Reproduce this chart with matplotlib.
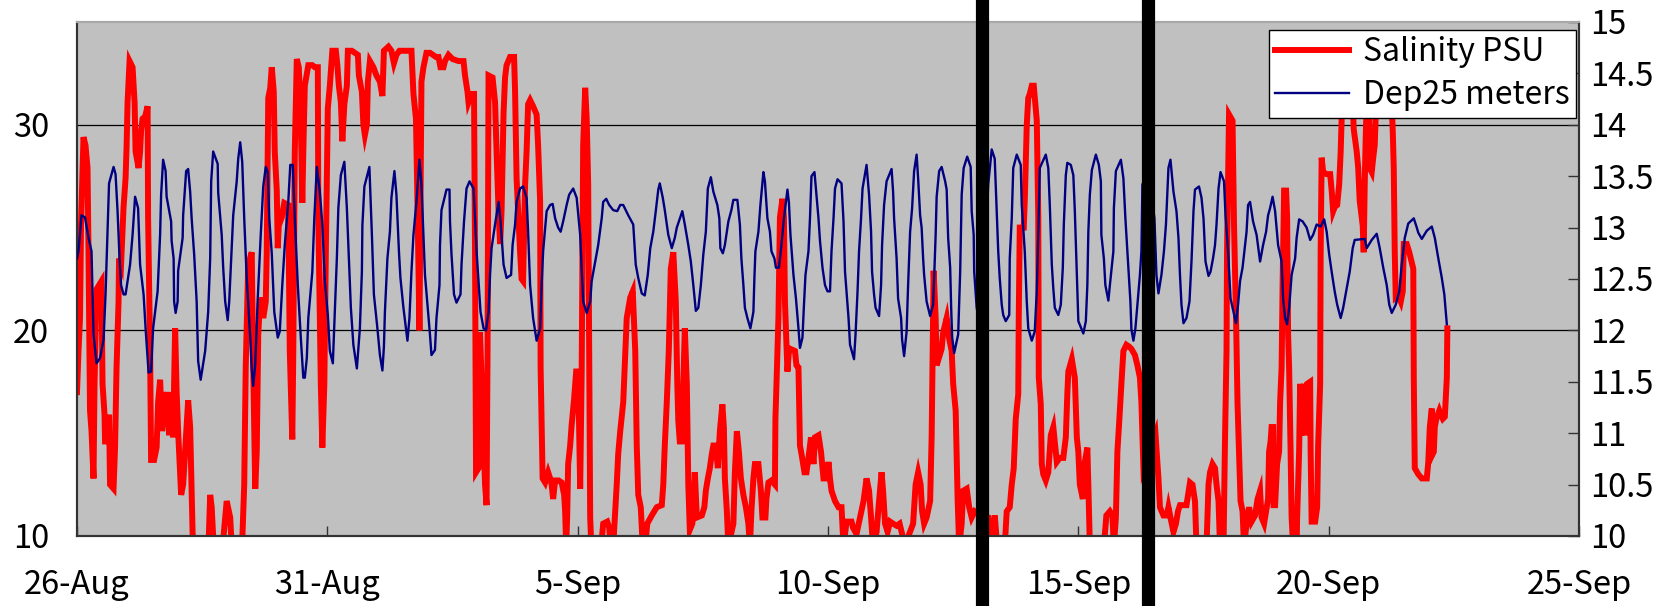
import matplotlib
matplotlib.use("Agg")
import matplotlib.pyplot as plt
from matplotlib.lines import Line2D

plt.rcParams['font.family'] = ['Noto Sans CJK JP', 'DejaVu Sans']

# ---------------- data ----------------
# time axis: days since 26-Aug 00:00
x_ticks = [0, 5, 10, 15, 20, 25, 30]
x_ticklabels = ["26-Aug", "31-Aug", "5-Sep", "10-Sep", "15-Sep", "20-Sep", "25-Sep"]
sal_ticks = [10, 20, 30]
dep_ticks = [10, 10.5, 11, 11.5, 12, 12.5, 13, 13.5, 14, 14.5, 15]
dep_ticklabels = ["10", "10.5", "11", "11.5", "12", "12.5", "13", "13.5", "14", "14.5", "15"]
event_days = [18.08, 21.40]

dep_day = [
    0.00, 0.03, 0.09, 0.16, 0.23, 0.29, 0.33, 0.39, 0.46, 0.53, 0.57, 0.61, 0.64, 0.73, 0.77, 0.81, 0.85, 0.88, 0.93, 0.97,
    1.06, 1.11, 1.16, 1.22, 1.26, 1.33, 1.37, 1.43, 1.48, 1.52, 1.61, 1.66, 1.68, 1.72, 1.77, 1.79, 1.88, 1.89, 1.93, 1.94, 1.97,
    2.01, 2.02, 2.11, 2.12, 2.18, 2.22, 2.26, 2.29, 2.34, 2.39, 2.42, 2.47, 2.56, 2.62, 2.66, 2.68, 2.72, 2.81, 2.82, 2.89, 2.92, 2.96,
    3.01, 3.04, 3.08, 3.12, 3.19, 3.22, 3.26, 3.30, 3.34, 3.39, 3.46, 3.49, 3.52, 3.56, 3.61, 3.67, 3.72, 3.77, 3.81, 3.84, 3.89, 3.94,
    4.01, 4.05, 4.10, 4.15, 4.22, 4.26, 4.31, 4.35, 4.41, 4.47, 4.52, 4.55, 4.59, 4.62, 4.70, 4.74, 4.79, 4.85, 4.90, 4.95,
    5.01, 5.05, 5.11, 5.15, 5.19, 5.22, 5.27, 5.34, 5.39, 5.43, 5.47, 5.52, 5.59, 5.65, 5.69, 5.70, 5.74, 5.84,
    5.89, 5.93, 6.00, 6.05, 6.10, 6.13, 6.15, 6.20, 6.25, 6.28, 6.34, 6.38, 6.43, 6.46, 6.52, 6.60, 6.64, 6.68, 6.72, 6.78, 6.84, 6.88, 6.92, 6.95,
    7.00, 7.05, 7.08, 7.15, 7.18, 7.24, 7.25, 7.28, 7.38, 7.44, 7.45, 7.48, 7.53, 7.58, 7.66, 7.68, 7.73, 7.78, 7.84, 7.92, 7.95, 7.98,
    8.02, 8.06, 8.12, 8.17, 8.22, 8.25, 8.28, 8.35, 8.42, 8.46, 8.52, 8.58, 8.67, 8.70, 8.75, 8.78, 8.85, 8.91, 8.98,
    9.01, 9.05, 9.11, 9.18, 9.25, 9.28, 9.31, 9.38, 9.45, 9.50, 9.55, 9.61, 9.66, 9.71, 9.78, 9.83, 9.91, 9.98,
    10.05, 10.08, 10.11, 10.18, 10.25, 10.28, 10.35, 10.41, 10.48, 10.51, 10.57, 10.63, 10.71, 10.79, 10.85, 10.91,
    11.01, 11.11, 11.16, 11.21, 11.28, 11.34, 11.40, 11.45, 11.51, 11.56, 11.61, 11.64, 11.70, 11.74, 11.81, 11.88, 11.94, 11.98,
    12.09, 12.14, 12.21, 12.26, 12.31, 12.36, 12.41, 12.46, 12.51, 12.56, 12.60, 12.66, 12.71, 12.79, 12.83, 12.85, 12.90, 12.94,
    13.01, 13.07, 13.11, 13.19, 13.24, 13.27, 13.31, 13.34, 13.39, 13.45, 13.51, 13.53, 13.55, 13.61, 13.65, 13.71, 13.74, 13.79, 13.84, 13.87, 13.93, 13.96,
    14.02, 14.07, 14.12, 14.19, 14.22, 14.25, 14.31, 14.36, 14.41, 14.44, 14.49, 14.52, 14.55, 14.61, 14.64, 14.67, 14.73, 14.77, 14.81, 14.84, 14.89, 14.94, 14.99,
    15.04, 15.07, 15.11, 15.14, 15.19, 15.27, 15.31, 15.34, 15.37, 15.41, 15.44, 15.52, 15.55, 15.59, 15.62, 15.66, 15.69, 15.77, 15.82, 15.86, 15.88, 15.92, 15.95,
    16.02, 16.06, 16.08, 16.12, 16.17, 16.27, 16.30, 16.32, 16.37, 16.40, 16.46, 16.48, 16.52, 16.57, 16.60, 16.64, 16.68, 16.72, 16.77, 16.80, 16.84, 16.87, 16.90, 16.92, 16.97,
    17.04, 17.10, 17.12, 17.15, 17.17, 17.22, 17.27, 17.34, 17.37, 17.40, 17.44, 17.46, 17.48, 17.52, 17.60, 17.64, 17.67, 17.71, 17.78, 17.85, 17.87, 17.91, 17.92, 17.97,
    18.08, 18.20, 18.27, 18.33, 18.37, 18.40, 18.43, 18.47, 18.50, 18.55, 18.62, 18.63, 18.67, 18.70, 18.77, 18.85, 18.87, 18.93, 18.97,
    19.00, 19.07, 19.13, 19.17, 19.20, 19.23, 19.35, 19.40, 19.43, 19.47, 19.50, 19.53, 19.60, 19.65, 19.69, 19.71, 19.75, 19.78, 19.85, 19.90, 19.93, 19.97,
    20.00, 20.10, 20.15, 20.18, 20.20, 20.23, 20.27, 20.35, 20.41, 20.45, 20.46, 20.51, 20.54, 20.60, 20.63, 20.70, 20.71, 20.75, 20.85, 20.90, 20.94,
    21.00, 21.04, 21.06, 21.10, 21.14, 21.18, 21.23, 21.26, 21.28, 21.40, 21.52, 21.56, 21.60, 21.66, 21.71, 21.75, 21.80, 21.84, 21.90, 21.96,
    22.00, 22.03, 22.06, 22.10, 22.16, 22.22, 22.26, 22.30, 22.33, 22.41, 22.46, 22.50, 22.54, 22.60, 22.64, 22.69, 22.73, 22.76, 22.80, 22.84, 22.91, 22.94, 22.99,
    23.04, 23.10, 23.15, 23.19, 23.23, 23.28, 23.33, 23.36, 23.39, 23.43, 23.49, 23.56, 23.63, 23.69, 23.75, 23.79, 23.83, 23.88, 23.93, 23.99,
    24.06, 24.09, 24.13, 24.17, 24.21, 24.26, 24.33, 24.36, 24.41, 24.48, 24.56, 24.63, 24.69, 24.76, 24.84, 24.91, 24.96,
    25.01, 25.06, 25.12, 25.17, 25.24, 25.29, 25.36, 25.42, 25.48, 25.52, 25.72, 25.76, 25.86, 25.96,
    26.02, 26.09, 26.16, 26.21, 26.26, 26.34, 26.41, 26.46, 26.52, 26.59, 26.70, 26.76, 26.79, 26.86, 26.96,
    27.06, 27.12, 27.19, 27.26, 27.31, 27.36,
]
dep_m = [
    12.70, 12.77, 13.12, 13.10, 12.90, 12.77, 11.96, 11.68, 11.73, 11.91, 12.35, 12.96, 13.43, 13.59, 13.52, 13.16, 12.70, 12.44, 12.35, 12.35,
    12.64, 12.93, 13.30, 13.19, 12.64, 12.35, 12.02, 11.59, 11.60, 12.02, 12.38, 12.93, 13.32, 13.66, 13.55, 13.30, 13.06, 12.87, 12.70, 12.28, 12.17,
    12.28, 12.58, 12.90, 13.12, 13.55, 13.57, 13.35, 13.09, 12.74, 12.28, 11.70, 11.52, 11.80, 12.18, 12.70, 13.45, 13.74, 13.62, 13.34, 12.93, 12.61, 12.28,
    12.10, 12.28, 12.70, 13.12, 13.45, 13.67, 13.83, 13.64, 13.09, 12.51, 11.93, 11.63, 11.46, 11.67, 12.31, 12.93, 13.40, 13.59, 13.54, 13.09, 12.75, 12.18,
    11.93, 11.99, 12.44, 12.83, 13.25, 13.61, 13.61, 13.09, 12.44, 11.93, 11.54, 11.54, 11.73, 12.12, 12.57, 13.09, 13.59, 13.35, 13.03, 12.48,
    12.15, 11.80, 11.68, 12.18, 12.70, 13.19, 13.51, 13.64, 13.19, 12.70, 12.22, 11.86, 11.63, 12.02, 12.57, 13.02, 13.40, 13.59,
    12.93, 12.35, 12.02, 11.76, 11.61, 11.84, 12.18, 12.70, 12.96, 13.29, 13.55, 13.32, 12.77, 12.51, 12.22, 11.90, 12.12, 12.57, 12.93, 13.25, 13.66, 13.42, 12.93, 12.54,
    12.25, 11.96, 11.76, 11.81, 12.12, 12.44, 12.83, 13.17, 13.37, 13.37, 13.06, 12.74, 12.35, 12.27, 12.35, 12.64, 13.06, 13.38, 13.45, 13.38, 13.09, 12.77,
    12.48, 12.18, 12.02, 12.00, 12.18, 12.54, 12.80, 13.03, 13.25, 13.06, 12.64, 12.51, 12.54, 12.83, 13.03, 13.25, 13.38, 13.40, 13.29,
    12.96, 12.44, 12.12, 11.90, 12.02, 12.44, 12.77, 13.16, 13.22, 13.23, 13.09, 13.00, 12.96, 13.06, 13.22, 13.32, 13.38, 13.29,
    12.93, 12.61, 12.28, 12.17, 12.28, 12.48, 12.67, 12.83, 13.09, 13.25, 13.28, 13.22, 13.17, 13.16, 13.22, 13.22,
    13.12, 13.03, 12.64, 12.51, 12.36, 12.34, 12.54, 12.80, 12.96, 13.16, 13.37, 13.43, 13.29, 13.17, 12.93, 12.80, 12.90, 13.00,
    13.16, 13.03, 12.83, 12.67, 12.44, 12.19, 12.22, 12.44, 12.74, 12.96, 13.38, 13.49, 13.35, 13.22, 13.09, 12.80, 12.75, 12.83,
    13.06, 13.17, 13.27, 13.27, 13.03, 12.70, 12.44, 12.22, 12.12, 12.02, 12.18, 12.51, 12.77, 12.96, 13.22, 13.54, 13.45, 13.09, 12.96, 12.77, 12.70, 12.61,
    12.61, 12.83, 13.09, 13.37, 13.24, 12.93, 12.54, 12.31, 12.02, 11.83, 11.93, 12.25, 12.54, 12.77, 13.09, 13.50, 13.54, 13.32, 13.09, 12.87, 12.61, 12.44, 12.38,
    12.38, 12.77, 13.09, 13.38, 13.47, 13.43, 13.06, 12.57, 12.38, 12.12, 11.86, 11.72, 11.96, 12.38, 12.77, 13.09, 13.38, 13.61, 13.32, 12.96, 12.57, 12.35, 12.22,
    12.14, 12.44, 12.83, 13.22, 13.45, 13.57, 13.35, 13.09, 12.70, 12.31, 12.12, 11.91, 11.75, 11.99, 12.44, 12.96, 13.19, 13.55, 13.71, 13.48, 13.12, 13.00, 12.70, 12.54, 12.28,
    12.14, 12.25, 12.51, 12.93, 13.30, 13.55, 13.59, 13.45, 13.37, 12.90, 12.61, 12.22, 11.93, 11.78, 11.96, 12.57, 13.32, 13.58, 13.69, 13.59, 13.16, 12.93, 12.57, 12.22,
    11.90, 13.42, 13.76, 13.67, 13.16, 12.77, 12.51, 12.25, 12.15, 12.09, 12.15, 12.70, 13.09, 13.58, 13.71, 13.61, 13.22, 12.77, 12.28,
    12.02, 11.90, 11.99, 12.38, 12.93, 13.58, 13.71, 13.58, 13.22, 12.64, 12.41, 12.22, 12.15, 12.25, 12.61, 13.03, 13.51, 13.63, 13.61, 13.51, 13.16, 12.54,
    12.09, 11.97, 12.09, 12.44, 12.96, 13.32, 13.56, 13.71, 13.61, 13.45, 12.93, 12.70, 12.44, 12.29, 12.44, 12.77, 13.19, 13.55, 13.66, 13.48, 13.09,
    12.61, 12.28, 12.01, 11.90, 12.02, 12.25, 12.54, 12.77, 13.42, 13.55, 13.09, 12.54, 12.36, 12.54, 12.77, 13.03, 13.58, 13.66, 13.35, 13.16,
    12.90, 12.54, 12.25, 12.07, 12.12, 12.28, 12.67, 13.16, 13.37, 13.40, 13.29, 13.09, 12.67, 12.53, 12.57, 12.70, 12.83, 13.03, 13.38, 13.54, 13.45, 13.12, 12.77,
    12.31, 12.18, 12.07, 12.25, 12.48, 12.61, 12.83, 12.96, 13.22, 13.25, 13.06, 12.93, 12.67, 12.83, 12.96, 13.12, 13.19, 13.30, 13.16, 12.83,
    12.67, 12.31, 12.12, 12.06, 12.22, 12.54, 12.70, 12.90, 13.08, 13.06, 13.00, 12.88, 12.93, 13.03, 13.01, 13.08, 12.96,
    12.74, 12.57, 12.38, 12.25, 12.12, 12.22, 12.41, 12.57, 12.80, 12.88, 12.89, 12.80, 12.88, 12.94,
    12.80, 12.61, 12.44, 12.25, 12.17, 12.25, 12.38, 12.64, 12.90, 13.04, 13.09, 13.00, 12.95, 12.89, 12.97,
    13.01, 12.90, 12.70, 12.51, 12.35, 12.06,
]

sal_day = [
    0.00, 0.03, 0.06, 0.08, 0.13, 0.17, 0.21, 0.23, 0.26, 0.29, 0.33, 0.35, 0.39, 0.49, 0.51, 0.55, 0.56, 0.61, 0.64, 0.66, 0.73, 0.76, 0.79, 0.83, 0.84, 0.88, 0.93, 0.97, 0.99,
    1.01, 1.05, 1.11, 1.15, 1.17, 1.23, 1.26, 1.28, 1.31, 1.36, 1.41, 1.42, 1.46, 1.48, 1.54, 1.59, 1.62, 1.66, 1.70, 1.74, 1.79, 1.84, 1.89, 1.92, 1.96, 1.99,
    2.02, 2.08, 2.12, 2.19, 2.22, 2.26, 2.29, 2.32, 2.42, 2.62, 2.66, 2.69, 2.74, 2.89, 2.99,
    3.06, 3.10, 3.29, 3.34, 3.37, 3.42, 3.49, 3.52, 3.56, 3.59, 3.62, 3.66, 3.72, 3.77, 3.79, 3.82, 3.86, 3.89, 3.93, 3.95, 3.99,
    4.01, 4.03, 4.09, 4.14, 4.22, 4.25, 4.30, 4.32, 4.35, 4.39, 4.43, 4.47, 4.50, 4.52, 4.55, 4.62, 4.70, 4.75, 4.81, 4.82, 4.87, 4.90, 4.94, 4.97,
    5.01, 5.05, 5.10, 5.17, 5.20, 5.23, 5.27, 5.30, 5.34, 5.39, 5.41, 5.49, 5.61, 5.63, 5.69, 5.72, 5.75, 5.79, 5.81, 5.85,
    5.92, 5.98, 6.05, 6.10, 6.13, 6.22, 6.28, 6.33, 6.38, 6.44, 6.68, 6.72, 6.77, 6.80, 6.84, 6.86, 6.88, 6.92, 6.98,
    7.05, 7.17, 7.22, 7.26, 7.32, 7.35, 7.42, 7.50, 7.62, 7.72, 7.75, 7.80, 7.82, 7.88, 7.93, 7.95, 7.97,
    8.02, 8.05, 8.12, 8.15, 8.18, 8.20, 8.22, 8.30, 8.35, 8.38, 8.42, 8.45, 8.48, 8.52, 8.55, 8.58, 8.65, 8.73, 8.75, 8.78, 8.85, 8.88, 8.91, 8.95, 8.98,
    9.01, 9.05, 9.11, 9.18, 9.21, 9.25, 9.26, 9.30, 9.35, 9.41, 9.45, 9.48, 9.51, 9.55, 9.62, 9.68, 9.73, 9.75, 9.77, 9.79, 9.81, 9.85, 9.88, 9.93, 9.97,
    10.01, 10.05, 10.08, 10.11, 10.15, 10.18, 10.21, 10.23, 10.25, 10.28, 10.45, 10.51, 10.59, 10.63, 10.66, 10.71, 10.78, 10.81, 10.85, 10.91, 10.98,
    11.05, 11.10, 11.15, 11.18, 11.21, 11.26, 11.30, 11.35, 11.39, 11.48, 11.58, 11.68, 11.71, 11.74, 11.78, 11.82, 11.86, 11.91, 11.96, 11.99,
    12.01, 12.04, 12.08, 12.11, 12.14, 12.18, 12.21, 12.24, 12.29, 12.34, 12.38, 12.48, 12.53, 12.56, 12.60, 12.64, 12.68, 12.71, 12.76, 12.80, 12.84, 12.89, 12.92, 12.94, 12.98,
    13.01, 13.11, 13.14, 13.18, 13.22, 13.26, 13.31, 13.36, 13.41, 13.44, 13.47, 13.51, 13.54, 13.61, 13.66, 13.69, 13.75, 13.77, 13.81, 13.87, 13.94, 13.95, 13.99,
    14.01, 14.04, 14.09, 14.12, 14.14, 14.19, 14.22, 14.25, 14.34, 14.37, 14.41, 14.44, 14.47, 14.53, 14.57, 14.61, 14.66, 14.71, 14.74, 14.81, 14.86, 14.91, 14.97,
    15.01, 15.04, 15.07, 15.14, 15.21, 15.27, 15.31, 15.37, 15.47, 15.50, 15.57, 15.64, 15.71, 15.77, 15.82, 15.86, 15.90, 15.97,
    16.02, 16.07, 16.10, 16.14, 16.19, 16.24, 16.30, 16.37, 16.43, 16.48, 16.53, 16.70, 16.75, 16.80, 16.85, 16.88, 16.92, 16.97,
    17.04, 17.07, 17.09, 17.11, 17.15, 17.17, 17.22, 17.27, 17.30, 17.37, 17.42, 17.47, 17.50, 17.55, 17.59, 17.62, 17.67, 17.70, 17.77, 17.82, 17.87, 17.93,
    18.05, 18.20, 18.27, 18.33, 18.38, 18.53, 18.57, 18.63, 18.67, 18.71, 18.75, 18.80, 18.81, 18.83, 18.91, 18.93, 18.97,
    19.00, 19.03, 19.07, 19.11, 19.17, 19.20, 19.21, 19.25, 19.27, 19.30, 19.35, 19.40, 19.45, 19.50, 19.57, 19.63, 19.70, 19.75, 19.78, 19.80, 19.87, 19.93, 19.97,
    20.00, 20.03, 20.09, 20.13, 20.18, 20.20, 20.23, 20.51, 20.56, 20.63, 20.68, 20.71, 20.75, 20.78, 20.82, 20.86, 20.90, 20.96,
    21.02, 21.06, 21.13, 21.18, 21.23, 21.26, 21.30, 21.54, 21.60, 21.63, 21.70, 21.77, 21.80, 21.84, 21.90, 21.95, 21.99, 22.03,
    22.10, 22.16, 22.23, 22.28, 22.33, 22.36, 22.56, 22.60, 22.63, 22.68, 22.73, 22.76, 22.80, 22.83, 22.90, 22.93, 22.96, 22.97,
    23.01, 23.08, 23.11, 23.15, 23.18, 23.21, 23.24, 23.28, 23.31, 23.36, 23.41, 23.46, 23.53, 23.58, 23.63, 23.66, 23.71, 23.75, 23.79, 23.81, 23.84, 23.86, 23.89, 23.90, 23.93, 23.97,
    24.01, 24.03, 24.06, 24.08, 24.11, 24.15, 24.17, 24.19, 24.21, 24.24, 24.26, 24.29, 24.36, 24.37, 24.41, 24.43, 24.46, 24.51, 24.54, 24.57, 24.63, 24.64, 24.66, 24.73, 24.77, 24.79, 24.83, 24.84, 24.86, 24.89, 24.96,
    25.03, 25.06, 25.09, 25.12, 25.17, 25.21, 25.24, 25.28, 25.32, 25.40, 25.47, 25.50, 25.56, 25.59, 25.62, 25.68, 25.70, 25.72, 25.74, 25.77, 25.80, 25.82, 25.86, 25.89, 25.92, 25.96, 26.05, 26.15, 26.26, 26.28, 26.30, 26.32, 26.34, 26.39, 26.44, 26.48, 26.50, 26.56, 26.61, 26.69,
    26.70, 26.72, 26.79, 26.86, 26.96, 26.99, 27.02, 27.06, 27.08, 27.10, 27.12, 27.15, 27.21, 27.24, 27.28, 27.32, 27.36, 27.37,
]
sal_psu = [
    17.0, 19.0, 20.6, 25.1, 29.4, 29.0, 27.9, 23.8, 16.1, 15.1, 12.8, 17.4, 22.0, 22.4, 17.4, 15.9, 14.6, 14.6, 15.9, 12.5, 12.3, 14.3, 18.2, 21.4, 23.5, 23.2, 26.0, 27.4, 28.9,
    31.1, 33.1, 32.8, 31.1, 28.7, 27.9, 28.7, 29.7, 30.3, 30.4, 30.9, 25.5, 19.0, 13.7, 13.7, 14.3, 16.5, 17.6, 15.1, 16.1, 17.0, 14.9, 17.0, 14.8, 20.1, 17.0,
    15.1, 12.0, 12.5, 15.4, 16.6, 15.3, 12.2, 9.0, 8.5, 9.0, 12.0, 11.4, 9.0, 9.0, 11.7,
    10.9, 9.0, 9.0, 12.5, 18.2, 23.2, 23.8, 18.2, 12.3, 14.1, 19.8, 21.6, 20.6, 21.4, 23.8, 31.3, 31.8, 32.8, 31.6, 28.7, 26.8,
    24.0, 25.1, 25.5, 26.2, 26.1, 19.0, 14.7, 19.0, 28.7, 33.2, 32.8, 30.3, 26.2, 28.7, 31.9, 32.9, 32.9, 32.8, 32.8, 25.5, 17.4, 14.3, 17.4, 23.8,
    30.8, 31.9, 33.6, 33.6, 32.9, 31.9, 31.1, 29.2, 31.0, 31.9, 33.6, 33.6, 33.4, 32.4, 31.6, 30.0, 29.5, 30.0, 32.1, 33.1,
    32.8, 32.4, 32.1, 31.4, 33.6, 33.8, 33.6, 33.0, 33.4, 33.6, 33.6, 31.5, 30.3, 26.3, 20.0, 26.3, 32.1, 32.8, 33.5,
    33.5, 33.3, 33.3, 32.8, 32.8, 33.1, 33.4, 33.2, 33.1, 33.1, 32.4, 31.6, 31.1, 31.5, 31.5, 23.8, 13.1,
    13.3, 19.9, 14.8, 12.5, 11.5, 19.0, 32.4, 32.3, 31.1, 28.7, 25.8, 24.2, 25.8, 30.6, 32.3, 32.9, 33.3, 33.3, 31.6, 27.4, 23.8, 22.5, 22.4, 27.1, 28.7,
    31.0, 31.2, 30.9, 30.5, 29.0, 26.3, 18.2, 12.8, 12.6, 13.1, 12.8, 12.5, 11.8, 12.7, 12.7, 12.6, 12.0, 11.2, 9.5, 10.9, 13.5, 14.4, 15.4, 16.7, 18.0,
    18.0, 12.3, 18.0, 29.0, 31.8, 30.3, 27.1, 19.0, 10.9, 9.0, 9.0, 10.6, 10.7, 10.4, 9.5, 9.5, 12.5, 14.0, 15.1, 16.5, 20.6,
    21.6, 21.9, 19.0, 14.4, 12.0, 11.4, 9.5, 9.5, 10.6, 11.0, 11.4, 11.5, 12.5, 14.4, 16.5, 19.0, 23.0, 23.8, 21.4, 17.4,
    15.6, 14.6, 14.6, 17.4, 20.1, 17.4, 12.5, 10.3, 10.6, 13.1, 10.9, 11.0, 11.4, 12.2, 12.8, 13.3, 14.0, 14.4, 14.4, 13.3, 15.1, 16.4, 15.3, 12.8, 11.2,
    9.5, 10.6, 13.1, 15.1, 14.1, 12.8, 12.0, 11.4, 10.6, 9.5, 11.2, 12.8, 13.5, 13.5, 12.2, 10.9, 10.9, 11.8, 12.6, 12.7, 12.5, 15.7, 19.0,
    20.6, 25.5, 26.4, 25.5, 21.4, 18.0, 19.0, 19.1, 19.0, 18.3, 18.2, 14.4, 14.0, 13.1, 13.1, 13.8, 14.8, 13.5, 14.8, 14.9, 14.1, 12.8, 12.8,
    13.6, 12.8, 12.2, 11.7, 11.4, 11.4, 9.5, 10.7, 10.7, 10.4, 10.1, 10.9, 11.7, 12.8, 12.2, 10.9, 9.5, 10.2,
    11.7, 13.1, 12.2, 10.6, 10.2, 10.7, 10.6, 10.5, 10.6, 10.1, 9.5, 10.6, 12.5, 13.1, 12.5, 11.2, 10.6, 10.9,
    11.7, 14.8, 19.0, 22.9, 20.6, 18.3, 18.7, 19.1, 19.9, 20.6, 19.6, 19.0, 17.4, 16.1, 11.7, 9.5, 10.6, 12.2, 12.3, 11.4, 10.9, 11.2,
    11.0, 10.9, 9.5, 11.0, 9.5, 9.5, 11.2, 11.4, 12.5, 13.3, 15.7, 16.9, 20.6, 25.0, 25.0, 26.3, 30.0,
    31.3, 31.5, 31.9, 31.9, 30.2, 25.5, 17.7, 16.4, 13.5, 13.0, 12.7, 13.1, 14.9, 15.3, 13.6, 13.8, 13.8, 14.8, 16.9, 18.0, 18.6, 17.7, 14.8,
    14.1, 12.5, 11.8, 13.6, 14.3, 12.5, 9.5, 9.5, 11.0, 11.2, 11.0, 9.5, 10.9, 14.1, 15.7, 17.4, 19.0, 19.3,
    19.2, 19.1, 18.8, 18.3, 17.7, 16.5, 13.3, 15.0, 12.8, 11.4, 11.0, 11.0, 11.4, 10.9, 10.2, 10.6, 11.2, 11.5,
    11.5, 11.5, 12.6, 12.5, 11.7, 9.5, 9.5, 12.5, 13.1, 13.5, 13.3, 12.5, 11.7, 9.5, 9.5, 14.8, 19.0, 23.8,
    30.5, 30.2, 25.1, 20.6, 16.4, 14.1, 11.7, 11.2, 9.5, 10.6, 11.4, 10.7, 11.0, 11.8, 12.2, 10.9, 10.6, 11.2, 11.8, 14.1, 14.6, 15.3, 15.3, 11.5, 11.5, 13.5,
    14.1, 16.5, 18.2, 22.2, 26.8, 26.8, 25.5, 19.8, 18.2, 14.1, 10.9, 9.5, 9.5, 10.9, 14.1, 17.4, 14.9, 17.4, 14.9, 17.4, 17.5, 14.1, 10.7, 10.7, 11.4, 14.4, 17.4, 23.8, 28.4, 27.7, 27.6,
    27.6, 26.8, 25.8, 26.0, 26.1, 27.1, 28.7, 32.0, 32.5, 31.5, 32.0, 29.8, 28.7, 27.9, 26.3, 25.1, 23.8, 27.1, 29.4, 32.0, 32.0, 27.9, 27.7, 28.4, 29.0, 32.0, 32.5, 32.0, 31.0, 29.7, 27.9, 23.8, 21.6, 21.7, 21.4, 21.9, 24.2, 24.2, 23.8, 23.0,
    17.7, 13.3, 13.0, 12.8, 12.8, 13.6, 15.3, 16.2, 14.0, 14.1, 15.3, 15.7, 16.1, 15.9, 15.7, 15.8, 17.7, 20.1,
]

# ---------------- figure ----------------
W, H = 1675, 606
fig = plt.figure(figsize=(W / 100, H / 100), dpi=100)
ax1 = fig.add_axes([77 / W, 1 - 536 / H, (1579 - 77) / W, (536 - 22) / H])
ax2 = ax1.twinx()

ax1.set_facecolor('#C0C0C0')
ax1.plot(sal_day, sal_psu, color='#FF0000', lw=4.3, solid_joinstyle='miter', zorder=3)
ax2.plot(dep_day, dep_m, color='#000080', lw=1.7, zorder=3)

ax1.set_xlim(x_ticks[0], x_ticks[-1])
ax1.set_ylim(10, 35)
ax2.set_ylim(dep_ticks[0], dep_ticks[-1])

ax1.set_xticks(x_ticks)
ax1.set_xticklabels(x_ticklabels)
ax1.set_yticks(sal_ticks)
ax1.set_yticklabels([str(v) for v in sal_ticks])
ax2.set_yticks(dep_ticks)
ax2.set_yticklabels(dep_ticklabels)

ax1.grid(axis='y', color='black', lw=0.9)
ax1.set_axisbelow(True)

fs = 23.5
ax1.tick_params(axis='x', direction='in', length=7, width=1, color='#333333', labelsize=fs, pad=24)
ax1.tick_params(axis='y', length=0, labelsize=fs, pad=20)
ax2.tick_params(axis='y', direction='in', length=8, width=1, color='#333333', labelsize=fs, pad=8)

for ax in (ax1, ax2):
    ax.spines['top'].set_color('#A8A8A8')
    ax.spines['top'].set_linewidth(1.5)
    for s in ('left', 'bottom', 'right'):
        ax.spines[s].set_color('#333333')
        ax.spines[s].set_linewidth(1.5)

# event markers spanning the whole figure height
for d in event_days:
    ax2.axvline(d, ymin=-0.3, ymax=1.3, color='black', lw=9.5, clip_on=False, zorder=10)

handles = [Line2D([], [], color='#FF0000', lw=4.3), Line2D([], [], color='#000080', lw=1.7)]
leg = ax2.legend(handles, ["Salinity PSU", "Dep25 meters"], loc='upper right',
                 bbox_to_anchor=(0.998, 0.985), borderaxespad=0, fontsize=23,
                 frameon=True, fancybox=False, framealpha=1, edgecolor='black',
                 handlelength=2.3, handletextpad=0.45, labelspacing=0.35, borderpad=0.2)
leg.get_frame().set_linewidth(1.0)
leg.set_zorder(20)

fig.savefig('out.png', dpi=100)
